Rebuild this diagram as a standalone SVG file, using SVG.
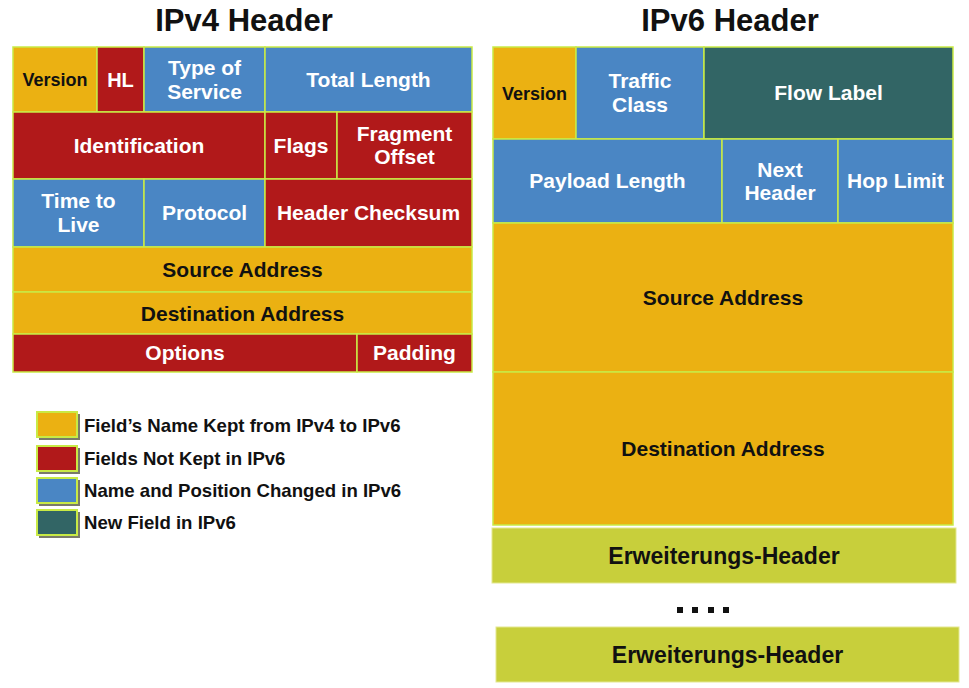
<svg xmlns="http://www.w3.org/2000/svg" width="969" height="688" viewBox="0 0 969 688">
<style>
text{font-family:"Liberation Sans",Arial,sans-serif;font-weight:bold;text-anchor:middle}
.t{font-size:31px;fill:#111}
.c{stroke:#C9EA45;stroke-width:1.5}
.y{fill:#EBB112}.r{fill:#B1191A}.b{fill:#4A86C4}.g{fill:#326565}
.e{fill:#C8CF3B;stroke:#E3E890;stroke-width:1}
.w{fill:#fff;font-size:21px}.k{fill:#111;font-size:21px}
.lg{font-size:18.6px;fill:#111;text-anchor:start}
.ex{font-size:23px;fill:#111}
</style>
<text class="t" x="244" y="31">IPv4 Header</text>
<text class="t" x="730" y="31">IPv6 Header</text>
<g id="ipv4">
<g id="v4-version"><rect class="c y" x="13" y="47" width="84" height="65"/><text class="k" x="55" y="86" style="font-size:18px">Version</text></g>
<g id="v4-hl"><rect class="c r" x="97" y="47" width="47" height="65"/><text class="w" x="120.5" y="87" style="font-size:20px">HL</text></g>
<g id="v4-tos"><rect class="c b" x="144" y="47" width="121" height="65"/><text class="w" x="204.5" y="75">Type of</text><text class="w" x="204.5" y="99">Service</text></g>
<g id="v4-totallen"><rect class="c b" x="265" y="47" width="207" height="65"/><text class="w" x="368.5" y="87">Total Length</text></g>
<g id="v4-ident"><rect class="c r" x="13" y="112" width="252" height="67"/><text class="w" x="139" y="153">Identification</text></g>
<g id="v4-flags"><rect class="c r" x="265" y="112" width="72" height="67"/><text class="w" x="301" y="153">Flags</text></g>
<g id="v4-fragoff"><rect class="c r" x="337" y="112" width="135" height="67"/><text class="w" x="404.5" y="141">Fragment</text><text class="w" x="404.5" y="164">Offset</text></g>
<g id="v4-ttl"><rect class="c b" x="13" y="179" width="131" height="68"/><text class="w" x="78.5" y="208">Time to</text><text class="w" x="78.5" y="232">Live</text></g>
<g id="v4-proto"><rect class="c b" x="144" y="179" width="121" height="68"/><text class="w" x="204.5" y="220">Protocol</text></g>
<g id="v4-checksum"><rect class="c r" x="265" y="179" width="207" height="68"/><text class="w" x="368.5" y="220">Header Checksum</text></g>
<g id="v4-src"><rect class="c y" x="13" y="247" width="459" height="45"/><text class="k" x="242.5" y="277">Source Address</text></g>
<g id="v4-dst"><rect class="c y" x="13" y="292" width="459" height="42"/><text class="k" x="242.5" y="321">Destination Address</text></g>
<g id="v4-options"><rect class="c r" x="13" y="334" width="344" height="38"/><text class="w" x="185" y="360">Options</text></g>
<g id="v4-padding"><rect class="c r" x="357" y="334" width="115" height="38"/><text class="w" x="414.5" y="360">Padding</text></g>
</g>
<g id="legend">
<g id="lg1"><rect x="39" y="414" width="41" height="26" fill="#7a7a6a"/><rect class="y" x="37" y="412" width="40" height="25" stroke="#C9EA45" stroke-width="2"/><text class="lg" x="84" y="432">Field’s Name Kept from IPv4 to IPv6</text></g>
<g id="lg2"><rect x="39" y="448" width="41" height="26" fill="#7a7a6a"/><rect class="r" x="37" y="446" width="40" height="25" stroke="#C9EA45" stroke-width="2"/><text class="lg" x="84" y="465">Fields Not Kept in IPv6</text></g>
<g id="lg3"><rect x="39" y="480" width="41" height="26" fill="#7a7a6a"/><rect class="b" x="37" y="478" width="40" height="25" stroke="#C9EA45" stroke-width="2"/><text class="lg" x="84" y="497">Name and Position Changed in IPv6</text></g>
<g id="lg4"><rect x="39" y="512" width="41" height="26" fill="#7a7a6a"/><rect class="g" x="37" y="510" width="40" height="25" stroke="#C9EA45" stroke-width="2"/><text class="lg" x="84" y="529">New Field in IPv6</text></g>
</g>
<g id="ipv6">
<g id="v6-version"><rect class="c y" x="493" y="47" width="83" height="92"/><text class="k" x="534.5" y="100" style="font-size:18px">Version</text></g>
<g id="v6-traffic"><rect class="c b" x="576" y="47" width="128" height="92"/><text class="w" x="640" y="88">Traffic</text><text class="w" x="640" y="112">Class</text></g>
<g id="v6-flow"><rect class="c g" x="704" y="47" width="249" height="92"/><text class="w" x="828.5" y="100">Flow Label</text></g>
<g id="v6-payload"><rect class="c b" x="493" y="139" width="229" height="84"/><text class="w" x="607.5" y="188">Payload Length</text></g>
<g id="v6-next"><rect class="c b" x="722" y="139" width="116" height="84"/><text class="w" x="780" y="177">Next</text><text class="w" x="780" y="200">Header</text></g>
<g id="v6-hop"><rect class="c b" x="838" y="139" width="115" height="84"/><text class="w" x="895.5" y="188">Hop Limit</text></g>
<g id="v6-src"><rect class="c y" x="493" y="223" width="460" height="149"/><text class="k" x="723" y="305">Source Address</text></g>
<g id="v6-dst"><rect class="c y" x="493" y="372" width="460" height="153"/><text class="k" x="723" y="456">Destination Address</text></g>
<g id="ext1"><rect class="e" x="492" y="528" width="464" height="55"/><text class="ex" x="724" y="564">Erweiterungs-Header</text></g>
<g id="dots" fill="#111"><rect x="677" y="607" width="6" height="6"/><rect x="692" y="607" width="6" height="6"/><rect x="708" y="607" width="6" height="6"/><rect x="723" y="607" width="6" height="6"/></g>
<g id="ext2"><rect class="e" x="496" y="627" width="463" height="55"/><text class="ex" x="727.5" y="663">Erweiterungs-Header</text></g>
</g>
<g id="connectors"/>
</svg>
